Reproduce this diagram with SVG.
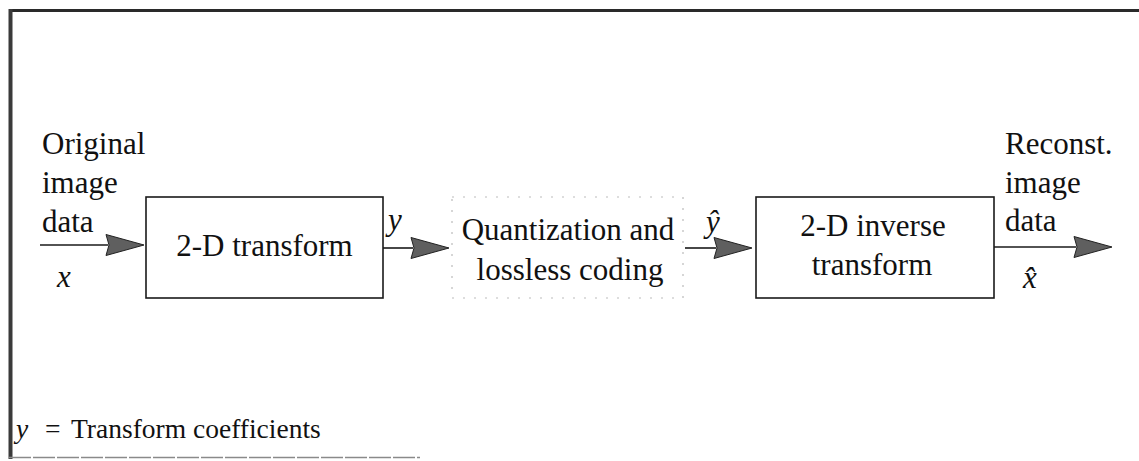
<svg xmlns="http://www.w3.org/2000/svg" width="1139" height="461" viewBox="0 0 1139 461">
  <style>
    .t { font-family: "Liberation Serif", "Times New Roman", serif; font-size: 31px; fill: #111; }
    .m { font-family: "Liberation Serif", "Times New Roman", serif; font-size: 31px; font-style: italic; fill: #111; }
    .legend { font-size: 27.5px; }
    .box { fill: none; stroke: #1a1a1a; stroke-width: 1.6; }
    .dbox { fill: none; stroke: #bbb; stroke-width: 1.2; stroke-dasharray: 2 9; }
    .wire { stroke: #1a1a1a; stroke-width: 1.6; fill: none; }
    .head { fill: #5f5f5f; stroke: #222; stroke-width: 1; }
  </style>
  <defs>
    <path id="ah" d="M-38,-10.5 L0,0 L-38,10.5 L-35,0 Z"/>
  </defs>

  <rect width="1139" height="461" fill="#fff"/>

  <!-- frame -->
  <g id="frame">
    <line x1="9" y1="10.5" x2="1139" y2="10.5" stroke="#2a2a2a" stroke-width="3"/>
    <line x1="10.5" y1="9" x2="10.5" y2="459" stroke="#3a3a3a" stroke-width="4"/>
    <line x1="9" y1="457.5" x2="420" y2="457.5" stroke="#8a8a8a" stroke-width="1.4" stroke-dasharray="22 2"/>
  </g>

  <!-- input label -->
  <g id="input">
    <text class="t" x="42" y="154">Original</text>
    <text class="t" x="42" y="193">image</text>
    <text class="t" x="42" y="232">data</text>
    <text class="m" x="57" y="287">x</text>
  </g>

  <g id="transform">
    <rect class="box" x="146" y="197" width="237" height="101"/>
    <text class="t" x="264.5" y="256" text-anchor="middle">2-D transform</text>
  </g>

  <g id="quantization">
    <rect class="dbox" x="452" y="197" width="231" height="101"/>
    <text class="t" x="568" y="240" text-anchor="middle">Quantization and</text>
    <text class="t" x="570" y="280" text-anchor="middle">lossless coding</text>
  </g>

  <g id="inverse">
    <rect class="box" x="756" y="197" width="238" height="101"/>
    <text class="t" x="873" y="236" text-anchor="middle">2-D inverse</text>
    <text class="t" x="872" y="275" text-anchor="middle">transform</text>
  </g>

  <!-- output label -->
  <g id="output">
    <text class="t" x="1005" y="154">Reconst.</text>
    <text class="t" x="1005" y="193">image</text>
    <text class="t" x="1005" y="231">data</text>
    <text class="m" x="1023" y="288">x̂</text>
  </g>

  <g id="connectors">
    <line class="wire" x1="40" y1="245" x2="108" y2="245"/>
    <use href="#ah" class="head" transform="translate(144,245)"/>
    <line class="wire" x1="383" y1="248" x2="413" y2="248"/>
    <use href="#ah" class="head" transform="translate(449,248)"/>
    <line class="wire" x1="685" y1="248" x2="716" y2="248"/>
    <use href="#ah" class="head" transform="translate(752,248)"/>
    <line class="wire" x1="994" y1="247" x2="1076" y2="247"/>
    <use href="#ah" class="head" transform="translate(1112,247)"/>
    <text class="m" x="388" y="230">y</text>
    <text class="m" x="706" y="232">ŷ</text>
  </g>

  <g id="legend">
    <text class="m legend" x="16" y="438">y</text>
    <text class="t legend" x="45" y="438">=</text>
    <text class="t legend" x="71" y="438">Transform coefficients</text>
  </g>
</svg>
